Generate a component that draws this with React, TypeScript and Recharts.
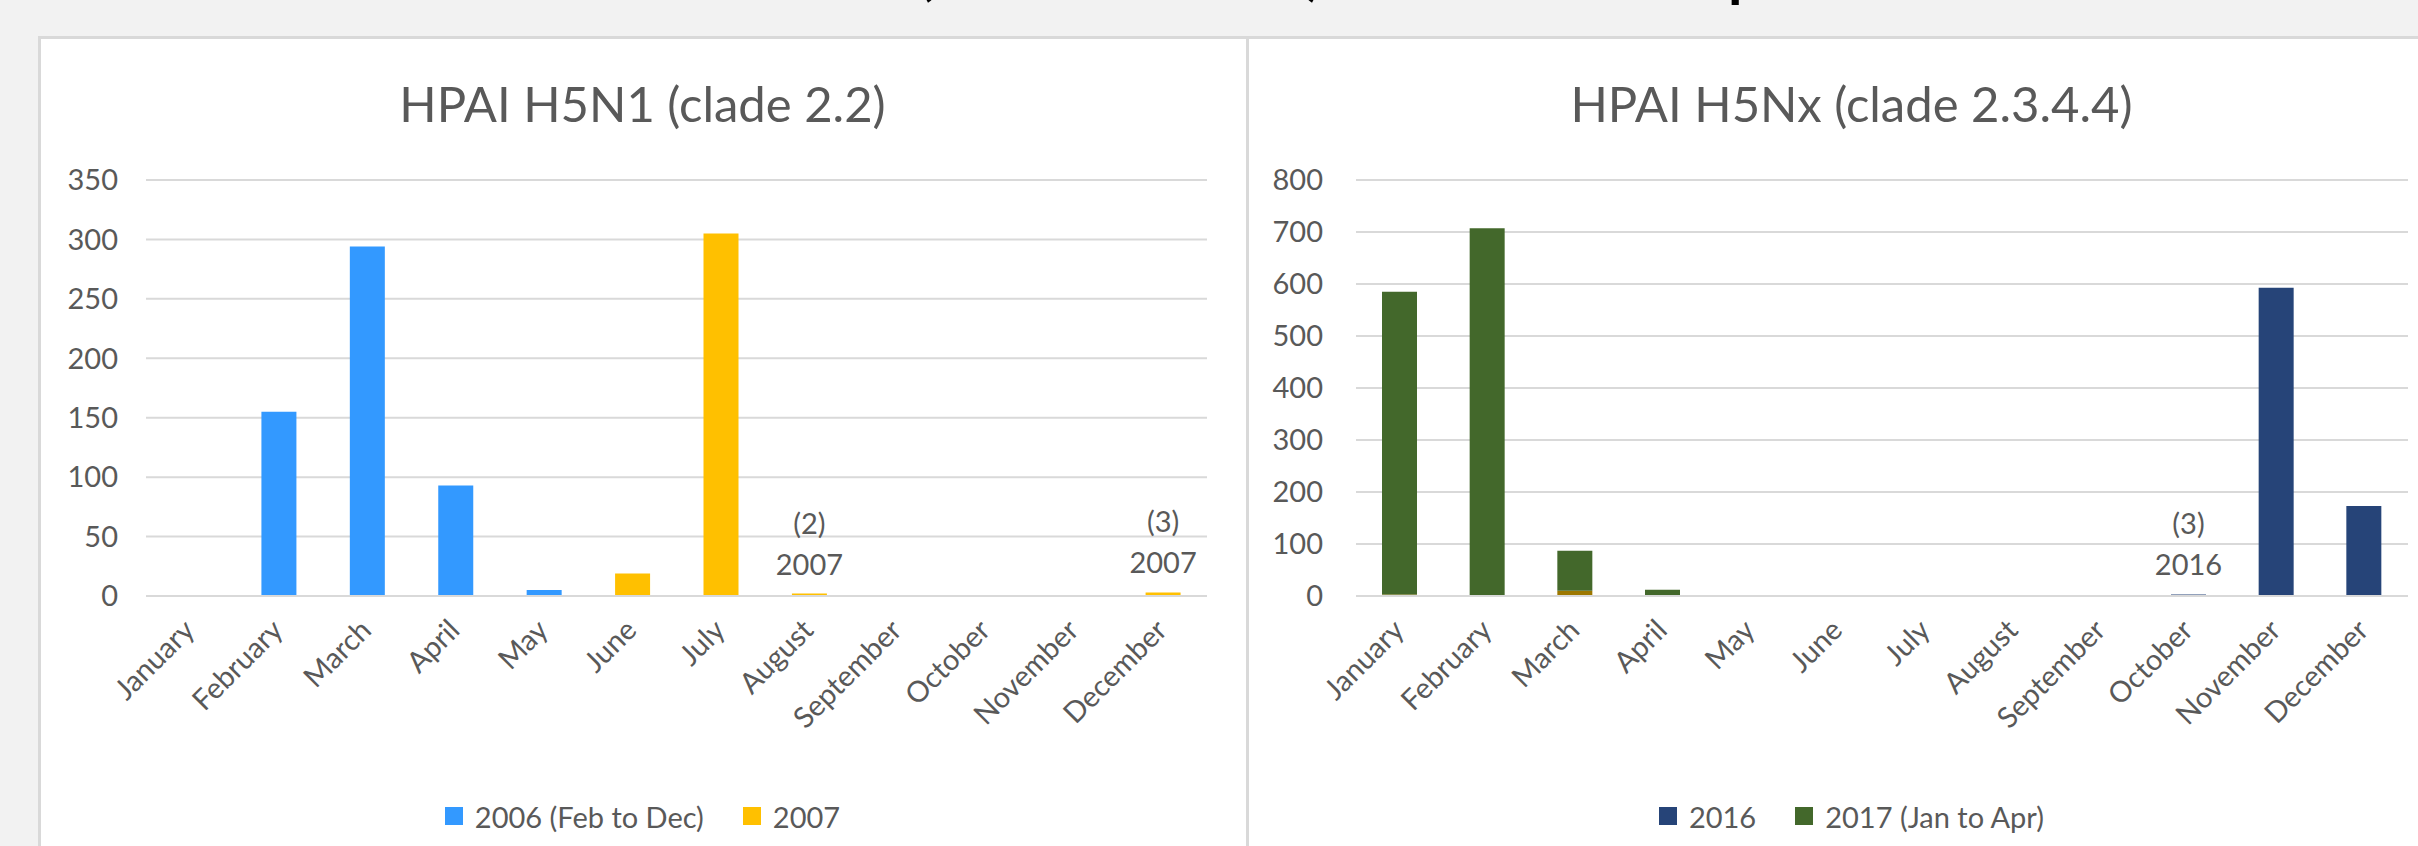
import React from 'react';
import { BarChart, Bar, XAxis, YAxis, CartesianGrid, Legend, LabelList } from 'recharts';

// ---------- data ----------
const months = ['January', 'February', 'March', 'April', 'May', 'June', 'July', 'August', 'September', 'October', 'November', 'December'];

const h5n1Values2006 = [0, 155, 294, 93, 5, 0, 0, 0, 0, 0, 0, 0];
const h5n1Values2007 = [0, 0, 0, 0, 0, 19, 305, 2, 0, 0, 0, 3];
const h5n1Notes2007 = ['', '', '', '', '', '', '', '(2)', '', '', '', '(3)'];
const h5n1Ticks = [0, 50, 100, 150, 200, 250, 300, 350];

const h5nxValuesOther = [3, 0, 10, 0, 0, 0, 0, 0, 0, 0, 0, 0];
const h5nxValues2016 = [0, 0, 0, 0, 0, 0, 0, 0, 0, 3, 593, 173];
const h5nxValues2017 = [582, 707, 77, 12, 0, 0, 0, 0, 0, 0, 0, 0];
const h5nxNotes2016 = ['', '', '', '', '', '', '', '', '', '(3)', '', ''];
const h5nxTicks = [0, 100, 200, 300, 400, 500, 600, 700, 800];

const leftData = months.map((m, i) => ({
  month: m,
  y2006: h5n1Values2006[i],
  y2007: h5n1Values2007[i],
  note: h5n1Notes2007[i],
}));

const rightData = months.map((m, i) => ({
  month: m,
  other: h5nxValuesOther[i],
  y2016: h5nxValues2016[i],
  y2017: h5nxValues2017[i],
  note: h5nxNotes2016[i],
}));

// ---------- style ----------
const FONT = 'Lato, "Open Sans", sans-serif';
const GREY = '#595959';
const GRID = '#d9d9d9';
const TICK_SIZE = 29;

function MonthTick(props: any) {
  const { x, y, payload } = props;
  const tx = Number(x) + 6;
  const ty = Number(y) + 36;
  return (
    <text
      x={tx}
      y={ty}
      transform={`rotate(-45 ${tx} ${ty})`}
      textAnchor="end"
      fill={GREY}
      fontSize={TICK_SIZE}
      fontFamily={FONT}
    >
      {payload.value}
    </text>
  );
}

function makeNote(year: string) {
  return (props: any) => {
    const { x, y, width, value } = props;
    if (!value) return null;
    const cx = Number(x) + Number(width) / 2;
    const top = Number(y);
    return (
      <g>
        <text x={cx} y={top - 60} textAnchor="middle" fill={GREY} fontSize={TICK_SIZE} fontFamily={FONT}>
          {value}
        </text>
        <text x={cx} y={top - 19} textAnchor="middle" fill={GREY} fontSize={TICK_SIZE} fontFamily={FONT}>
          {year}
        </text>
      </g>
    );
  };
}

function LegendContent(props: any) {
  const items = (props.payload || []).filter((p: any) => p.type !== 'none');
  return (
    <div
      style={{
        height: 80,
        paddingTop: 20,
        boxSizing: 'border-box',
        display: 'flex',
        justifyContent: 'center',
        alignItems: 'center',
        fontFamily: FONT,
        fontSize: TICK_SIZE,
        color: GREY,
      }}
    >
      {items.map((it: any, i: number) => (
        <div key={i} style={{ display: 'flex', alignItems: 'center', marginLeft: i ? 39 : 0 }}>
          <span style={{ width: 18, height: 18, background: it.color, marginRight: 12, display: 'inline-block' }} />
          <span>{it.value}</span>
        </div>
      ))}
    </div>
  );
}

const CHART_W = 1209;
const CHART_H = 810;
const PAGE_TITLE_Y = -9;

export default function App() {
  return (
    <div
      style={{
        position: 'absolute',
        left: 0,
        top: 0,
        width: 2418,
        height: 846,
        overflow: 'hidden',
        background: '#f2f2f2',
        fontFamily: FONT,
      }}
    >
      {/* page title, almost entirely above the top edge (only descenders show) */}
      <svg width={2418} height={40} style={{ position: 'absolute', left: 0, top: 0, display: 'block' }}>
        <text x={895} y={PAGE_TITLE_Y} textAnchor="end" fontSize={80} fontFamily={FONT} fill="#000">
          Number of HPAI outbreaks
        </text>
        <text x={915} y={PAGE_TITLE_Y} fontSize={80} fontFamily={FONT} fill="#000" textLength={410} lengthAdjust="spacingAndGlyphs">
          (2006–2017)
        </text>
        <text x={1370} y={PAGE_TITLE_Y} fontSize={80} fontFamily={FONT} fill="#000">
          in the EU
        </text>
        <text x={1726} y={PAGE_TITLE_Y} fontSize={80} fontFamily={FONT} fill="#000">
          per month
        </text>
      </svg>

      {/* panels */}
      <div
        style={{
          position: 'absolute',
          left: 38,
          top: 36,
          width: 1209,
          height: 900,
          background: '#fff',
          borderTop: `3px solid ${GRID}`,
          borderLeft: `3px solid ${GRID}`,
          boxSizing: 'border-box',
        }}
      />
      <div
        style={{
          position: 'absolute',
          left: 1246,
          top: 36,
          width: 1300,
          height: 900,
          background: '#fff',
          borderTop: `3px solid ${GRID}`,
          borderLeft: `3px solid ${GRID}`,
          boxSizing: 'border-box',
        }}
      />

      {/* titles */}
      <div
        style={{
          position: 'absolute',
          left: 38,
          top: 79,
          width: 1209,
          textAlign: 'center',
          fontSize: 49,
          lineHeight: '49px',
          color: GREY,
          whiteSpace: 'nowrap',
        }}
      >
        HPAI H5N1 (clade 2.2)
      </div>
      <div
        style={{
          position: 'absolute',
          left: 1247,
          top: 79,
          width: 1209,
          textAlign: 'center',
          fontSize: 49,
          lineHeight: '49px',
          color: GREY,
          whiteSpace: 'nowrap',
        }}
      >
        HPAI H5Nx (clade 2.3.4.4)
      </div>

      {/* left chart */}
      <div style={{ position: 'absolute', left: 38, top: 36, width: CHART_W, height: CHART_H }}>
        <BarChart width={CHART_W} height={CHART_H} data={leftData} margin={{ top: 144, right: 40, left: 0, bottom: 0 }}>
          <CartesianGrid vertical={false} stroke={GRID} strokeWidth={2} />
          <XAxis
            dataKey="month"
            interval={0}
            height={170}
            tickSize={0}
            tickMargin={0}
            tickLine={false}
            axisLine={{ stroke: GRID, strokeWidth: 2 }}
            tick={(p: any) => <MonthTick {...p} />}
          />
          <YAxis
            width={108}
            domain={[0, 350]}
            ticks={h5n1Ticks}
            interval={0}
            tickSize={0}
            tickMargin={28}
            axisLine={false}
            tickLine={false}
            tick={{ fill: GREY, fontSize: TICK_SIZE, fontFamily: FONT }}
          />
          <Legend
            verticalAlign="bottom"
            content={(p: any) => <LegendContent {...p} />}
            wrapperStyle={{ left: 0, width: CHART_W, bottom: 0 }}
          />
          <Bar dataKey="y2006" name="2006 (Feb to Dec)" stackId="a" fill="#3399FF" barSize={35} isAnimationActive={false} />
          <Bar dataKey="y2007" name="2007" stackId="a" fill="#FFC000" barSize={35} isAnimationActive={false}>
            <LabelList dataKey="note" content={makeNote('2007')} />
          </Bar>
        </BarChart>
      </div>

      {/* right chart */}
      <div style={{ position: 'absolute', left: 1247, top: 36, width: CHART_W, height: CHART_H }}>
        <BarChart width={CHART_W} height={CHART_H} data={rightData} margin={{ top: 144, right: 48, left: 0, bottom: 0 }}>
          <CartesianGrid vertical={false} stroke={GRID} strokeWidth={2} />
          <XAxis
            dataKey="month"
            interval={0}
            height={170}
            tickSize={0}
            tickMargin={0}
            tickLine={false}
            axisLine={{ stroke: GRID, strokeWidth: 2 }}
            tick={(p: any) => <MonthTick {...p} />}
          />
          <YAxis
            width={109}
            domain={[0, 800]}
            ticks={h5nxTicks}
            interval={0}
            tickSize={0}
            tickMargin={33}
            axisLine={false}
            tickLine={false}
            tick={{ fill: GREY, fontSize: TICK_SIZE, fontFamily: FONT }}
          />
          <Legend
            verticalAlign="bottom"
            content={(p: any) => <LegendContent {...p} />}
            wrapperStyle={{ left: 0, width: CHART_W, bottom: 0 }}
          />
          <Bar dataKey="other" name="other" legendType="none" stackId="b" fill="#9C7700" barSize={35} isAnimationActive={false} />
          <Bar dataKey="y2016" name="2016" stackId="b" fill="#264478" barSize={35} isAnimationActive={false}>
            <LabelList dataKey="note" content={makeNote('2016')} />
          </Bar>
          <Bar dataKey="y2017" name="2017 (Jan to Apr)" stackId="b" fill="#43682B" barSize={35} isAnimationActive={false} />
        </BarChart>
      </div>
    </div>
  );
}
